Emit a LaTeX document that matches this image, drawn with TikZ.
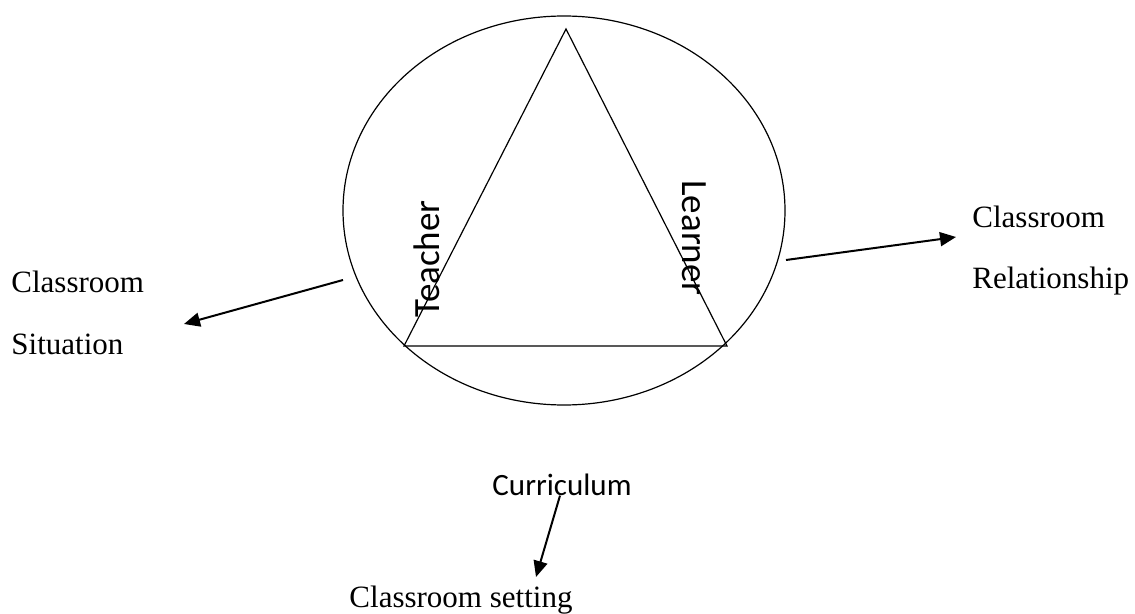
\documentclass[tikz,border=0pt]{standalone}
\usepackage{fontspec}
\setmainfont{Liberation Serif}
\newfontfamily\calibri{Carlito}
\usetikzlibrary{shapes.geometric, arrows.meta, positioning, calc}

\begin{document}
\begin{tikzpicture}[
    x=0.5pt, y=-0.5pt,
    every node/.style={inner sep=0pt},
    serif/.style={font=\fontsize{15.5}{19}\selectfont, anchor=base west},
    sans/.style={font=\calibri\fontsize{15.5}{19}\selectfont, anchor=base},
    side/.style={font=\calibri\fontsize{18.5}{22}\selectfont},
    arrow/.style={-{Triangle[length=8pt, width=7pt]}, line width=1pt}
]
\useasboundingbox (0,0) rectangle (1135,614);

% circle and triangle
\node[ellipse, draw, line width=0.6pt, minimum width=221pt, minimum height=194.5pt] (ring) at (564,210.5) {};
\coordinate (top) at (566,29);
\coordinate (left) at (404,346);
\coordinate (right) at (727,346);
\draw[line width=0.6pt] (top) -- (right) -- (left) -- cycle;

\node[side, rotate=90] (teacher) at (427,259) {Teacher};
\node[side, rotate=-90] (learner) at (694,238) {Learner};

% labels
\node[serif] (sitA) at (11,293) {Classroom};
\node[serif] (sitB) at (11,355) {Situation};
\node[serif] (relA) at (972,228) {Classroom};
\node[serif] (relB) at (972,289) {Relationship};
\node[sans] (curr) at (562,495) {Curriculum};
\node[serif, anchor=base] (setting) at (461,607) {Classroom setting};

% arrows
\coordinate (outL) at (343,280);
\coordinate (tipL) at (184,324);
\coordinate (outR) at (786,260);
\coordinate (tipR) at (956,237);
\coordinate (tipC) at (536,577);
\draw[arrow] (outL) -- (tipL);
\draw[arrow] (outR) -- (tipR);
\draw[arrow] ($(curr.south)+(-2,0)$) -- (tipC);
\end{tikzpicture}
\end{document}
